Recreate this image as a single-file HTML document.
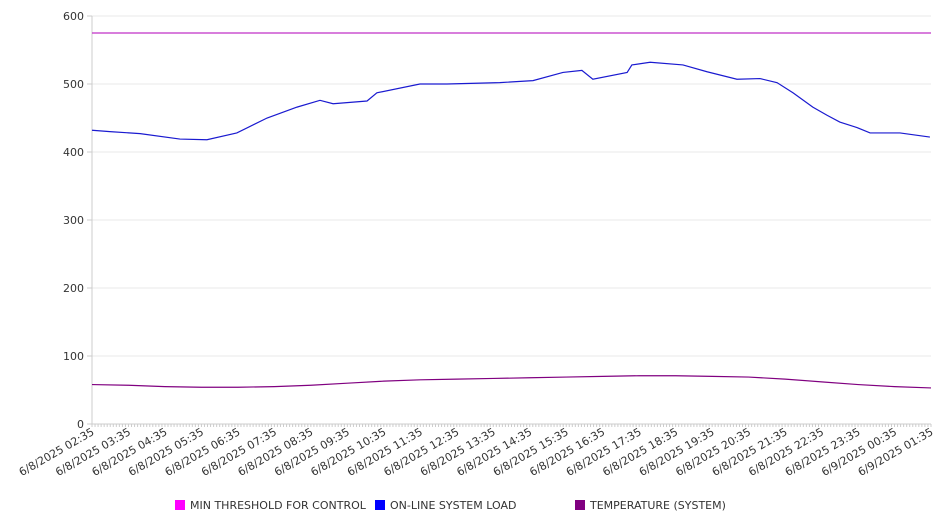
<!DOCTYPE html>
<html><head><meta charset="utf-8"><style>
body{margin:0;background:#fff;}
svg{display:block;font-family:"DejaVu Sans","Liberation Sans",sans-serif;}
</style></head><body>
<svg id="chart" width="946" height="526"></svg>
<script>
const yTicks=[0,100,200,300,400,500,600];
const xLabels=["6/8/2025 02:35","6/8/2025 03:35","6/8/2025 04:35","6/8/2025 05:35","6/8/2025 06:35","6/8/2025 07:35","6/8/2025 08:35","6/8/2025 09:35","6/8/2025 10:35","6/8/2025 11:35","6/8/2025 12:35","6/8/2025 13:35","6/8/2025 14:35","6/8/2025 15:35","6/8/2025 16:35","6/8/2025 17:35","6/8/2025 18:35","6/8/2025 19:35","6/8/2025 20:35","6/8/2025 21:35","6/8/2025 22:35","6/8/2025 23:35","6/9/2025 00:35","6/9/2025 01:35"];
const thresholdValue=575;
const loadHours=[0,0.49,1.32,2.41,3.15,3.97,4.8,5.62,6.25,6.61,7.54,7.81,8.99,9.73,11.18,12.09,12.91,13.43,13.73,14.67,14.8,15.3,16.2,16.86,17.68,18.31,18.78,19.22,19.76,20.15,20.5,20.97,21.33,22.15,22.97];
const loadValues=[432,430,427,419,418,428,450,466,476,471,475,487,500,500,502,505,517,520,507,517,528,532,528,518,507,508,502,487,466,454,444,436,428,428,422];
const tempHours=[0,1,2,3,4,5,6,7,8,9,10,11,12,13,14,15,16,17,18,19,20,21,22,23];
const tempValues=[58,57,55,54,54,55,57,60,63,65,66,67,68,69,70,71,71,70,69,66,62,58,55,53];
const legendNames=["MIN THRESHOLD FOR CONTROL","ON-LINE SYSTEM LOAD","TEMPERATURE (SYSTEM)"];
const legendColors=["#ff00ff","#0000ff","#800080"];

const NS="http://www.w3.org/2000/svg";
const svg=document.getElementById('chart');
const X0=92,X1=931,Y0=424,Y1=16;
const xs=h=>X0+h*(X1-X0)/23;
const ys=v=>Y0-v*(Y0-Y1)/600;
function mk(t,a,txt){const e=document.createElementNS(NS,t);for(const k in a)e.setAttribute(k,a[k]);if(txt!=null)e.textContent=txt;svg.appendChild(e);return e;}

yTicks.forEach(v=>{
  const g=mk('line',{x1:X0,x2:X1,y1:ys(v),y2:ys(v),stroke:v===0?'#ccc':'#e8e8e8','stroke-width':1});
  
  
  const tk=mk('line',{x1:X0-5,x2:X0,y1:ys(v),y2:ys(v),stroke:'#ccc'});
  
  
  const t=mk('text',{x:X0-8,y:ys(v)+4,'text-anchor':'end','font-size':11,fill:'#333'},v);
  
  
});
const ax=mk('line',{x1:X0,x2:X0,y1:Y1,y2:Y0,stroke:'#ccc'});


for(let i=0;i<=23*12;i++){
  const x=X0+i*(X1-X0)/(23*12);
  const m=mk('line',{x1:x,x2:x,y1:Y0,y2:Y0+3,stroke:'#ccc'});
  
  
}
xLabels.forEach((s,i)=>{
  const x=xs(i)+3,y=Y0+10;
  const t=mk('text',{x:x,y:y,'text-anchor':'end','font-size':11,fill:'#333',transform:`rotate(-30 ${x} ${y})`},s);
  
  
});
const th=mk('line',{x1:X0,x2:X1,y1:ys(thresholdValue),y2:ys(thresholdValue),stroke:'#c030c8','stroke-width':1.2});


const lp=mk('polyline',{points:loadHours.map((h,i)=>xs(h)+','+ys(loadValues[i])).join(' '),fill:'none',stroke:'#1a1ad0','stroke-width':1.2});


const tp=mk('polyline',{points:tempHours.map((h,i)=>xs(h)+','+ys(tempValues[i])).join(' '),fill:'none',stroke:'#800080','stroke-width':1.2});


const lx=[175,375,575];
legendNames.forEach((n,i)=>{
  const r=mk('rect',{x:lx[i],y:500,width:10,height:10,fill:legendColors[i]});
  
  
  const t=mk('text',{x:lx[i]+15,y:509,'font-size':11,fill:'#333'},n);
  
  
});
</script>
</body></html>
